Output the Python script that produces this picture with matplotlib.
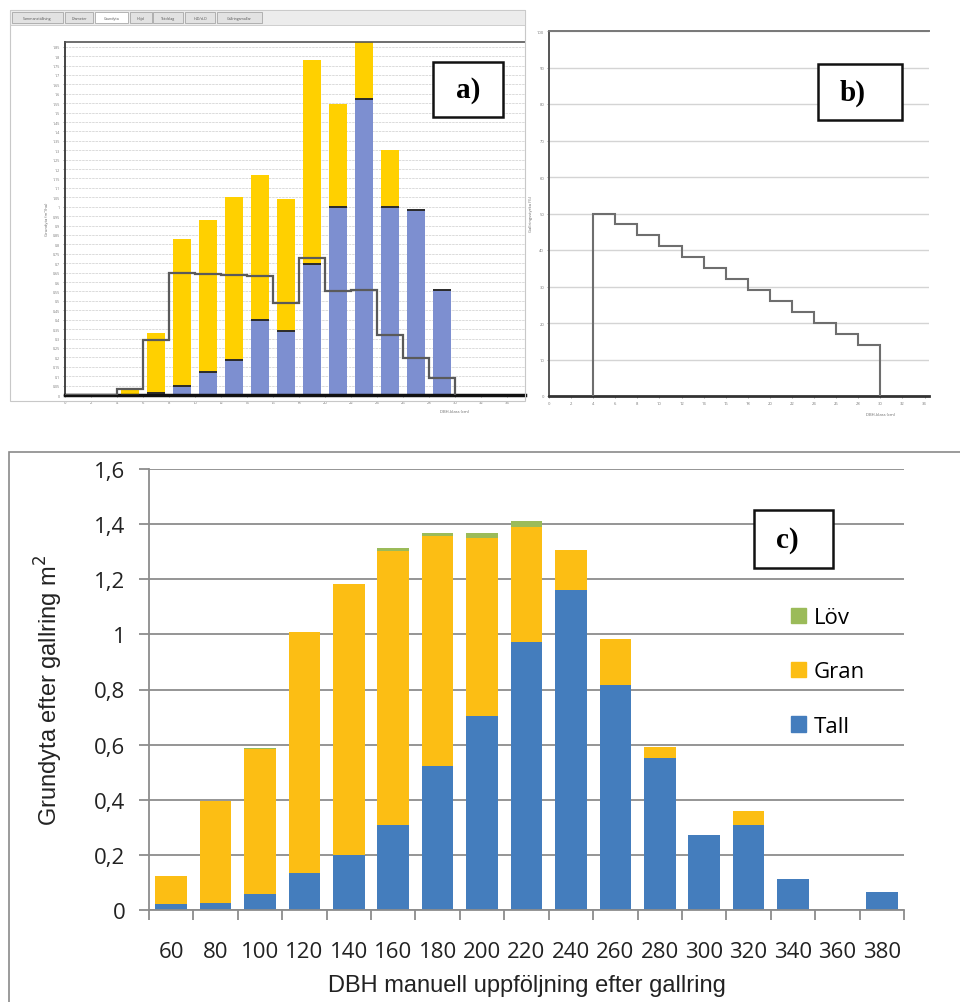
import numpy as np
import matplotlib
matplotlib.use('Agg')
import matplotlib.pyplot as plt
from matplotlib.patches import Rectangle, Patch

plt.rcParams['font.family'] = ['Open Sans', 'DejaVu Sans']

W, H = 960, 1003

# ---- panel a: program screenshot, basal area per DBH class ----
a_x = [5, 7, 9, 11, 13, 15, 17, 19, 21, 23, 25, 27, 29]
a_tall = [0.0, 0.01, 0.047, 0.12, 0.185, 0.40, 0.34, 0.695, 0.997, 1.573, 1.0, 0.98, 0.557]
a_gran = [0.034, 0.32, 0.783, 0.81, 0.865, 0.77, 0.70, 1.085, 0.548, 0.33, 0.30, 0.0, 0.0]
a_edges = [0, 2, 4, 6, 8, 10, 12, 14, 16, 18, 20, 22, 24, 26, 28, 30]
a_step = [0, 0, 0.03, 0.29, 0.65, 0.645, 0.64, 0.63, 0.49, 0.73, 0.55, 0.56, 0.32, 0.195, 0.09]
a_xticks = list(range(0, 36, 2))
a_yticks = [round(v * 0.05, 2) for v in range(38)]
a_tabs = ['Sammanställning', 'Diameter', 'Grundyta', 'Höjd', 'Trädslag', 'H-D/d-D', 'Gallringsmallar']

# ---- panel b: thinning strength per DBH class ----
b_edges = [4, 6, 8, 10, 12, 14, 16, 18, 20, 22, 24, 26, 28, 30]
b_step = [50, 47, 44, 41, 38, 35, 32, 29, 26, 23, 20, 17, 14]
b_xticks = list(range(0, 36, 2))
b_yticks = [0, 10, 20, 30, 40, 50, 60, 70, 80, 90, 100]

# ---- panel c: manual follow-up ----
c_labels = ['60', '80', '100', '120', '140', '160', '180', '200', '220',
            '240', '260', '280', '300', '320', '340', '360', '380']
c_tall = [0.021, 0.024, 0.058, 0.136, 0.198, 0.308, 0.521, 0.703, 0.974,
          1.160, 0.815, 0.553, 0.272, 0.310, 0.114, 0.0, 0.064]
c_gran = [0.104, 0.373, 0.527, 0.871, 0.986, 0.993, 0.835, 0.646, 0.416,
          0.146, 0.170, 0.039, 0.0, 0.050, 0.0, 0.0, 0.0]
c_lov = [0.0, 0.0, 0.004, 0.0, 0.0, 0.014, 0.013, 0.020, 0.023,
         0.0, 0.0, 0.0, 0.0, 0.0, 0.0, 0.0, 0.0]
c_yticks = [0, 0.2, 0.4, 0.6, 0.8, 1.0, 1.2, 1.4, 1.6]
c_ylabels = ['0', '0,2', '0,4', '0,6', '0,8', '1', '1,2', '1,4', '1,6']


def rect(l, t, r, b):
    return [l / W, 1 - b / H, (r - l) / W, (b - t) / H]


def frac(x, y):
    return x / W, 1 - y / H


fig = plt.figure(figsize=(W / 100, H / 100), dpi=100)

# ================= panel a =================
# screenshot frame + tab bar
fig.patches.append(Rectangle(frac(10, 402), 515 / W, 391 / H, transform=fig.transFigure,
                             fill=False, edgecolor='#c8c8c8', lw=0.8))
fig.patches.append(Rectangle(frac(10, 26), 515 / W, 15 / H, transform=fig.transFigure,
                             facecolor='#ececec', edgecolor='#c8c8c8', lw=0.6))
tab_l = [12, 65, 95, 130, 153, 185, 217]
tab_r = [63, 93, 128, 152, 183, 215, 262]
for i in range(len(a_tabs)):
    fc = 'white' if i == 2 else '#e2e2e2'
    fig.patches.append(Rectangle(frac(tab_l[i], 24), (tab_r[i] - tab_l[i]) / W, 11 / H,
                                 transform=fig.transFigure, facecolor=fc,
                                 edgecolor='#9a9a9a', lw=0.5))
    fig.text((tab_l[i] + tab_r[i]) / 2 / W, 1 - 19 / H, a_tabs[i], fontsize=2.6,
             ha='center', va='center', color='#555')

ax_a = fig.add_axes(rect(65, 43, 525, 396))
ax_a.bar(a_x, a_tall, width=1.4, color='#7d8fd0', zorder=2)
ax_a.bar(a_x, a_gran, width=1.4, bottom=a_tall, color='#ffd000', zorder=2)
ax_a.hlines(a_tall, np.array(a_x) - 0.7, np.array(a_x) + 0.7, color='#2a2a2a', lw=1.4, zorder=3)
ax_a.stairs(a_step, a_edges, baseline=0, color='#5a5a5a', lw=1.6, zorder=4)
ax_a.set_xlim(0, 35.4)
ax_a.set_ylim(0, 1.875)
ax_a.set_xticks(a_xticks)
ax_a.set_xticklabels([str(v) for v in a_xticks], fontsize=3, color='#666')
ax_a.set_yticks(a_yticks)
ax_a.set_yticklabels([('%g' % v) for v in a_yticks], fontsize=2.6, color='#666')
ax_a.tick_params(length=1.5, width=0.5, colors='#777', pad=2)
ax_a.yaxis.grid(True, color='#d6d6d6', lw=0.6, ls=(0, (3, 1)))
ax_a.set_axisbelow(True)
ax_a.spines['right'].set_visible(False)
ax_a.spines['left'].set_color('#444')
ax_a.spines['left'].set_linewidth(1.4)
ax_a.spines['top'].set_color('#555')
ax_a.spines['top'].set_linewidth(1.2)
ax_a.spines['bottom'].set_color('#111')
ax_a.spines['bottom'].set_linewidth(2.5)
ax_a.set_ylabel('Grundyta (m²/ha)', fontsize=3, color='#666', labelpad=3)
fig.text(455 / W, 1 - 412 / H, 'DBH-klass (cm)', fontsize=3, color='#666', ha='center', va='center')

# ================= panel b =================
ax_b = fig.add_axes(rect(549, 32, 929, 397))
ax_b.stairs(b_step, b_edges, baseline=0, color='#6e6e6e', lw=1.5, zorder=3)
ax_b.set_xlim(0, 34.4)
ax_b.set_ylim(0, 100)
ax_b.set_xticks(b_xticks)
ax_b.set_xticklabels([str(v) for v in b_xticks], fontsize=3, color='#666')
ax_b.set_yticks(b_yticks)
ax_b.set_yticklabels([str(v) for v in b_yticks], fontsize=3, color='#666')
ax_b.tick_params(length=1.5, width=0.5, colors='#777', pad=2)
ax_b.yaxis.grid(True, color='#d4d4d4', lw=1.0)
ax_b.set_axisbelow(True)
ax_b.spines['right'].set_visible(False)
ax_b.spines['left'].set_color('#555')
ax_b.spines['left'].set_linewidth(1.4)
ax_b.spines['top'].set_color('#777')
ax_b.spines['top'].set_linewidth(1.4)
ax_b.spines['bottom'].set_color('#333')
ax_b.spines['bottom'].set_linewidth(2)
ax_b.set_ylabel('Gallringsstyrka (%)', fontsize=3, color='#666', labelpad=3)
fig.text(880 / W, 1 - 415 / H, 'DBH-klass (cm)', fontsize=3, color='#666', ha='center', va='center')

# ================= panel c =================
fig.patches.append(Rectangle(frac(9, 1010), 960 / W, 557 / H, transform=fig.transFigure,
                             fill=False, edgecolor='#8a8a8a', lw=1.2))

ax_c = fig.add_axes(rect(149, 470, 904, 911))
xc = np.arange(len(c_labels))
tall = np.array(c_tall)
gran = np.array(c_gran)
lov = np.array(c_lov)
ax_c.bar(xc, tall, width=0.71, color='#447dbd', zorder=2, label='Tall')
ax_c.bar(xc, gran, width=0.71, bottom=tall, color='#fcbe14', zorder=2, label='Gran')
ax_c.bar(xc, lov, width=0.71, bottom=tall + gran, color='#9bbb59', zorder=2, label='Löv')
ax_c.set_xlim(-0.5, len(c_labels) - 0.5)
ax_c.set_ylim(0, 1.6)
ax_c.set_yticks(c_yticks)
ax_c.set_yticklabels(c_ylabels, fontsize=16, color='#222')
ax_c.set_xticks(xc)
ax_c.set_xticklabels(c_labels, fontsize=16, color='#222')
ax_c.set_xticks(np.arange(len(c_labels) + 1) - 0.5, minor=True)
ax_c.tick_params(axis='x', which='major', length=0, pad=22)
ax_c.tick_params(axis='x', which='minor', length=7, width=1.3, color='#8c8c8c')
ax_c.tick_params(axis='y', length=7, width=1.3, color='#8c8c8c', pad=10)
ax_c.yaxis.grid(True, color='#8c8c8c', lw=1.3)
ax_c.set_axisbelow(True)
for s in ['top', 'right']:
    ax_c.spines[s].set_visible(False)
for s in ['left', 'bottom']:
    ax_c.spines[s].set_color('#8c8c8c')
    ax_c.spines[s].set_linewidth(1.3)
ax_c.set_ylabel('Grundyta efter gallring m$^2$', fontsize=17, color='#222', labelpad=21,
                family=['Liberation Sans', 'DejaVu Sans'])
ax_c.set_xlabel('DBH manuell uppföljning efter gallring', fontsize=17, color='#222', labelpad=9,
                family=['Liberation Sans', 'DejaVu Sans'])

handles = [Patch(color='#9bbb59', label='Löv'),
           Patch(color='#fcbe14', label='Gran'),
           Patch(color='#447dbd', label='Tall')]
fig.legend(handles=handles, loc='upper left', bbox_to_anchor=frac(771, 588), frameon=False,
           fontsize=16, handlelength=0.68, handleheight=0.68, handletextpad=0.35,
           labelspacing=1.5)

# ================= label boxes =================
boxes = [('a)', 433, 63, 503, 118, 468),
         ('b)', 818, 65, 902, 121, 853),
         ('c)', 754, 511, 833, 569, 787)]
for lab, l, t, r, b, tx in boxes:
    fig.patches.append(Rectangle(frac(l, b), (r - l) / W, (b - t) / H, transform=fig.transFigure,
                                 facecolor='white', edgecolor='#111', lw=1.8, zorder=5))
    fig.text(tx / W, 1 - (t + b) / 2 / H, lab, fontsize=21, fontweight='bold',
             family='Liberation Serif', ha='center', va='center', zorder=6)

fig.savefig('out.png', dpi=100)
